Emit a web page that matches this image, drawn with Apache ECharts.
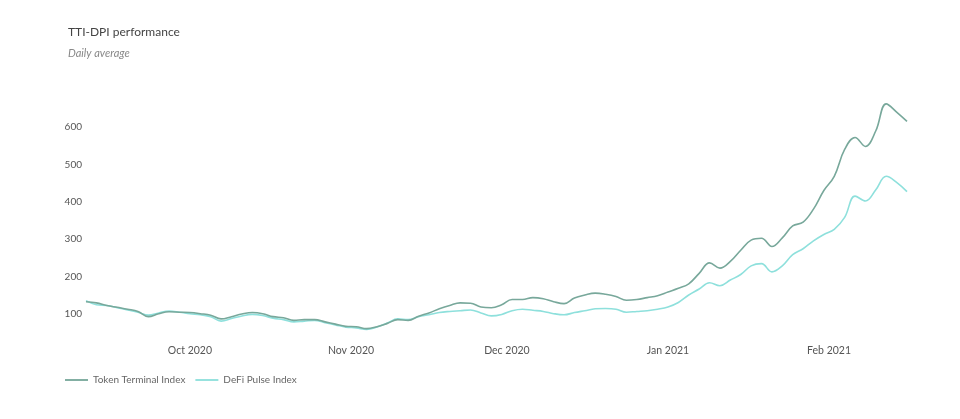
<!DOCTYPE html>
<html>
<head>
<meta charset="utf-8">
<script src="https://cdn.jsdelivr.net/npm/echarts@6/dist/echarts.min.js"></script>
<style>
html,body{margin:0;padding:0;background:#fff;}
#chart{width:960px;height:419px;}
</style>
</head>
<body>
<div id="chart"></div>
<script>
// Dates (every 2 days), Sep 11 2020 – Feb 16 2021
var startDate = '2020-09-11';
var stepDays = 2;
var ttiValues = [132,129,122,117,112,106,92,100,105,104,
                 103,100,96,86,92,99,103,100,92,89,
                 82,84,84,78,72,66,65,60,65,74,
                 84,82,93,102,113,122,129,128,118,116,
                 124,138,138,143,140,132,127,142,150,155,
                 152,146,136,138,143,148,158,168,180,208,
                 236,222,240,270,297,302,280,303,335,345,
                 380,430,468,540,572,548,590,662,640,615];
var dpiValues = [135,124,122,116,110,104,96,102,107,104,
                 100,97,92,80,87,94,98,95,88,84,
                 78,80,82,76,70,64,62,58,64,75,
                 86,84,92,97,103,106,108,110,102,94,
                 98,108,112,109,106,100,97,103,108,113,
                 114,112,104,106,108,112,118,130,150,166,
                 183,175,190,205,228,234,212,228,258,274,
                 295,312,326,358,415,402,432,468,452,427];
var seriesNames = ['Token Terminal Index', 'DeFi Pulse Index'];
var yTicks = [100,200,300,400,500,600];
var monthNames = ['Jan','Feb','Mar','Apr','May','Jun','Jul','Aug','Sep','Oct','Nov','Dec'];

var DAY = 86400000;
var t0 = new Date(startDate + 'T00:00:00').getTime();
function dateAt(i){ return t0 + i*stepDays*DAY; }
var ttiData = ttiValues.map(function(v,i){ return [dateAt(i), v]; });
var dpiData = dpiValues.map(function(v,i){ return [dateAt(i), v]; });

var chart = echarts.init(document.getElementById('chart'));
chart.setOption({
  animation:false,
  backgroundColor:'#fff',
  title:{
    text:'TTI-DPI performance',
    subtext:'Daily average',
    left:63, top:21,
    itemGap:10,
    textStyle:{fontFamily:'Lato', fontSize:12, fontWeight:'normal', color:'#444'},
    subtextStyle:{fontFamily:'Lato', fontSize:11, fontStyle:'italic', color:'#888'}
  },
  legend:{
    left:60, bottom:29,
    icon:'path://M0,0 L1,0 L1,0.08 L0,0.08 Z',
    itemWidth:23, itemHeight:2, itemGap:10,
    textStyle:{fontFamily:'Lato', fontSize:10, color:'#666'},
    data:seriesNames
  },
  grid:{left:86, right:53, top:89.7, bottom:68},
  xAxis:{
    type:'time',
    min:dateAt(0), max:dateAt(ttiValues.length-1),
    offset:-15,
    minInterval:28*DAY, maxInterval:31*DAY,
    axisLine:{show:false}, axisTick:{show:false}, splitLine:{show:false},
    axisLabel:{
      margin:9, fontFamily:'Lato', fontSize:10.5, color:'#555',
      showMinLabel:false, showMaxLabel:false,
      formatter:function(v){ var d=new Date(v); return monthNames[d.getMonth()]+' '+d.getFullYear(); }
    }
  },
  yAxis:{
    type:'value', min:0, max:700, interval:100,
    axisLine:{show:false}, axisTick:{show:false}, splitLine:{show:false},
    axisLabel:{
      margin:4, fontFamily:'Lato', fontSize:10, color:'#555',
      formatter:function(v){ return yTicks.indexOf(v)>=0 ? String(v) : ''; }
    }
  },
  series:[
    {name:seriesNames[0], type:'line', data:ttiData, smooth:0.4, showSymbol:false,
     lineStyle:{width:1.6, color:'#78a89b'}, itemStyle:{color:'#78a89b'}, z:3},
    {name:seriesNames[1], type:'line', data:dpiData, smooth:0.4, showSymbol:false,
     lineStyle:{width:1.6, color:'#8ee0dc'}, itemStyle:{color:'#8ee0dc'}, z:2}
  ]
});
</script>
</body>
</html>
